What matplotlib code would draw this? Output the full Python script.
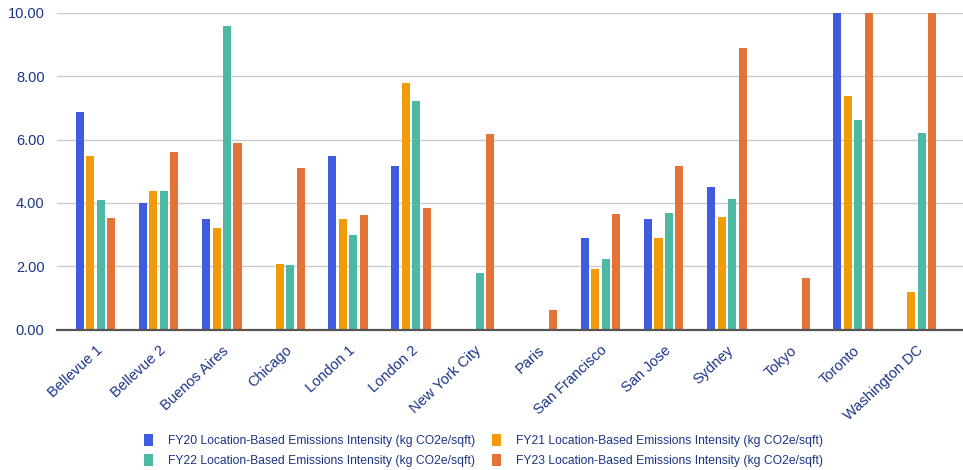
import matplotlib
matplotlib.use("Agg")
import matplotlib.pyplot as plt
import numpy as np

categories = ["Bellevue 1", "Bellevue 2", "Buenos Aires", "Chicago", "London 1", "London 2",
              "New York City", "Paris", "San Francisco", "San Jose", "Sydney", "Tokyo",
              "Toronto", "Washington DC"]
fy20 = [6.88, 4.0, 3.5, np.nan, 5.47, 5.18, np.nan, np.nan, 2.9, 3.5, 4.49, np.nan, 12.0, np.nan]
fy21 = [5.47, 4.39, 3.2, 2.08, 3.5, 7.79, np.nan, np.nan, 1.9, 2.9, 3.56, np.nan, 7.37, 1.18]
fy22 = [4.08, 4.39, 9.6, 2.05, 2.98, 7.23, 1.78, np.nan, 2.23, 3.69, 4.12, np.nan, 6.63, 6.22]
fy23 = [3.53, 5.62, 5.88, 5.09, 3.61, 3.83, 6.19, 0.63, 3.64, 5.18, 8.9, 1.64, 12.0, 12.0]
series_labels = [
    "FY20 Location-Based Emissions Intensity (kg CO2e/sqft)",
    "FY21 Location-Based Emissions Intensity (kg CO2e/sqft)",
    "FY22 Location-Based Emissions Intensity (kg CO2e/sqft)",
    "FY23 Location-Based Emissions Intensity (kg CO2e/sqft)",
]
colors = ["#3f5be0", "#f09b07", "#4db8a3", "#e47338"]
y_ticks = [0, 2, 4, 6, 8, 10]

plt.rcParams['font.family'] = ['Liberation Sans', 'DejaVu Sans']
txt = "#1c3487"

fig = plt.figure(figsize=(9.63, 4.70), dpi=100)
ax = fig.add_axes([57/963, 1 - 329.5/470, (963-57)/963, (329.5-13)/470])

x = np.arange(len(categories))
pitch = 0.166
width = 0.127
handles = []
for i, (vals, c) in enumerate(zip([fy20, fy21, fy22, fy23], colors)):
    b = ax.bar(x + (i - 1.5) * pitch, vals, width=width, color=c, zorder=3, label=series_labels[i])
    handles.append(b)

ax.set_ylim(0, 10)
ax.set_xlim(-0.61, 13.74)
ax.set_yticks(y_ticks)
ax.set_yticklabels([f"{v:.2f}" for v in y_ticks], color=txt, fontsize=10.5)
ax.yaxis.grid(True, color="#cccccc", linewidth=1, zorder=0)
ax.set_axisbelow(True)
for s in ["top", "right", "left"]:
    ax.spines[s].set_visible(False)
ax.spines["bottom"].set_color("#555555")
ax.spines["bottom"].set_linewidth(1.6)
ax.spines["bottom"].set_zorder(4)
ax.tick_params(axis="both", length=0)
ax.tick_params(axis="y", pad=9)
ax.set_xticks(x)
ax.set_xticklabels(categories, rotation=43, ha="right", rotation_mode="anchor",
                   color=txt, fontsize=10.5)
ax.tick_params(axis="x", pad=10)

order = [0, 2, 1, 3]
leg = fig.legend([handles[i] for i in order], [series_labels[i] for i in order],
                 loc="upper center", bbox_to_anchor=(0.502, 1 - 426/470), ncol=2, frameon=False,
                 fontsize=8.7, handlelength=0.75, handleheight=1.1, columnspacing=1.4,
                 handletextpad=1.25, labelspacing=0.55, borderpad=0.2)
for t in leg.get_texts():
    t.set_color(txt)

fig.savefig("out.png", dpi=100)
